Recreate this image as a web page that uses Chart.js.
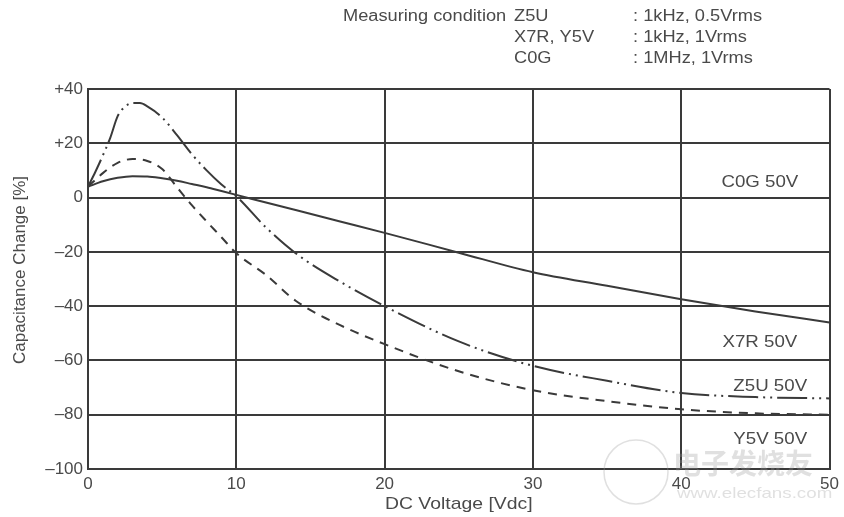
<!DOCTYPE html>
<html>
<head>
<meta charset="utf-8">
<script src="https://cdn.jsdelivr.net/npm/chart.js@4/dist/chart.umd.min.js"></script>
<style>
  body { margin: 0; background: #fff; }
  #wrap { width: 844px; height: 517px; }
</style>
</head>
<body>
<div id="wrap"><canvas id="dcBiasChart" width="844" height="517"></canvas></div>
<script>
// ---- data ----
const xTicks = [0, 10, 20, 30, 40, 50];
const yTicks = [40, 20, 0, -20, -40, -60, -80, -100];

// solid curve
const x7rVolt   = [0, 1, 2, 3, 4, 5, 6, 7, 8, 9, 10, 12, 14, 17, 20, 25, 30, 35, 40, 45, 50];
const x7rChange = [4, 6, 7.3, 7.9, 7.8, 7.1, 6.2, 5, 3.8, 2.4, 1, -1.8, -4.6, -8.8, -13, -20.3, -27.5, -32.5, -37.5, -42, -46];

// dash-dot-dot curve
const z5uVolt   = [0, 0.5, 1, 1.5, 2, 2.5, 3, 3.5, 4, 5, 6, 7, 8, 9, 10, 12, 14, 17, 20, 25, 30, 35, 40, 45, 50];
const z5uChange = [4, 9.5, 15.5, 22, 30, 33.5, 34.8, 34.8, 33.6, 29.5, 23, 16, 10, 4.8, 0.5, -11, -20.5, -31, -40, -53, -62, -67.5, -72, -73.5, -74];

// dashed curve
const y5vVolt   = [0, 1, 2, 3, 4, 5, 6, 7, 8, 9, 10, 12, 14, 17, 20, 25, 30, 35, 40, 45, 50];
const y5vChange = [4, 9, 12.8, 14.2, 13.5, 10.5, 3.8, -2.8, -8.8, -14.6, -20.5, -28.5, -38, -47, -54, -64, -71, -75, -78, -79.5, -80];

const FONT = "'Liberation Sans', Arial, sans-serif";
const INK = '#3a3a3a';
const TEXT = '#4a4a4a';
const STRETCH = 1.14; // the scan is a bit wider than tall

function toPoints(xs, ys) {
    return xs.map((x, i) => ({ x: x, y: ys[i] }));
}

function fmtY(v) {
    if (v > 0) return '+' + v;
    if (v < 0) return '–' + Math.abs(v);
    return '0';
}

// text drawn slightly wider, like the scanned original
function wideText(ctx, text, x, y, sx) {
    ctx.save();
    ctx.translate(x, y);
    ctx.scale(sx, 1);
    ctx.fillText(text, 0, 0);
    ctx.restore();
}

// header text, axis titles, curve labels, watermark
const notesPlugin = {
    id: 'notes',
    afterDraw(chart) {
        const ctx = chart.ctx;
        const xs = chart.scales.x, ys = chart.scales.y;
        const area = chart.chartArea;
        ctx.save();
        ctx.fillStyle = TEXT;
        ctx.textBaseline = 'middle';

        // measuring conditions
        ctx.font = '16px ' + FONT;
        ctx.textAlign = 'left';
        const rows = [
            ['Measuring condition', 'Z5U', ': 1kHz, 0.5Vrms'],
            ['', 'X7R, Y5V', ': 1kHz, 1Vrms'],
            ['', 'C0G', ': 1MHz, 1Vrms']
        ];
        rows.forEach((r, i) => {
            const y = 17 + i * 21;
            if (r[0]) wideText(ctx, r[0], 343, y, STRETCH);
            wideText(ctx, r[1], 514, y, STRETCH);
            wideText(ctx, r[2], 633, y, STRETCH);
        });

        // axis titles
        ctx.font = '17px ' + FONT;
        ctx.textAlign = 'center';
        wideText(ctx, 'DC Voltage [Vdc]', (area.left + area.right) / 2, 504, STRETCH);
        ctx.save();
        ctx.translate(20, 270);
        ctx.rotate(-Math.PI / 2);
        ctx.fillText('Capacitance Change [%]', 0, 0);
        ctx.restore();

        // labels in the right column
        const labels = [
            ['C0G 50V', 45.3, 5.5],
            ['X7R 50V', 45.3, -53.5],
            ['Z5U 50V', 46, -69.5],
            ['Y5V 50V', 46, -89]
        ];
        labels.forEach(l => {
            wideText(ctx, l[0], xs.getPixelForValue(l[1]), ys.getPixelForValue(l[2]), 1.1);
        });

        // faint watermark
        ctx.globalAlpha = 0.3;
        ctx.strokeStyle = '#999';
        ctx.lineWidth = 1.5;
        ctx.beginPath();
        ctx.arc(636, 472, 32, 0, Math.PI * 2);
        ctx.stroke();
        ctx.fillStyle = '#999';
        ctx.font = "bold 28px 'Noto Sans CJK SC', sans-serif";
        ctx.textAlign = 'left';
        ctx.fillText('电子发烧友', 673, 463);
        ctx.font = '15px ' + FONT;
        wideText(ctx, 'www.elecfans.com', 677, 494, 1.25);
        ctx.restore();
    }
};

const ctx = document.getElementById('dcBiasChart');

new Chart(ctx, {
    type: 'line',
    data: {
        datasets: [
            {
                label: 'X7R',
                data: toPoints(x7rVolt, x7rChange),
                borderColor: INK,
                borderWidth: 2,
                pointRadius: 0,
                cubicInterpolationMode: 'monotone'
            },
            {
                label: 'Z5U',
                data: toPoints(z5uVolt, z5uChange),
                borderColor: INK,
                borderWidth: 2,
                borderDash: [30, 5, 2, 5, 2, 5],
                pointRadius: 0,
                cubicInterpolationMode: 'monotone'
            },
            {
                label: 'Y5V',
                data: toPoints(y5vVolt, y5vChange),
                borderColor: INK,
                borderWidth: 2,
                borderDash: [9, 7],
                pointRadius: 0,
                cubicInterpolationMode: 'monotone'
            }
        ]
    },
    options: {
        responsive: false,
        animation: false,
        layout: { padding: { top: 89, right: 13, left: 0, bottom: 0 } },
        plugins: {
            legend: { display: false },
            tooltip: { enabled: false }
        },
        scales: {
            x: {
                type: 'linear',
                min: 0,
                max: 50,
                afterFit: s => { s.height = 48; },
                afterBuildTicks: s => { s.ticks = xTicks.map(v => ({ value: v })); },
                grid: { color: INK, lineWidth: 2, drawTicks: false },
                border: { color: INK, width: 2 },
                ticks: { color: TEXT, font: { family: FONT, size: 17 }, padding: 5, maxRotation: 0 }
            },
            y: {
                min: -100,
                max: 40,
                afterFit: s => { s.width = 88; },
                afterBuildTicks: s => { s.ticks = yTicks.map(v => ({ value: v })); },
                grid: { color: INK, lineWidth: 2, drawTicks: false },
                border: { color: INK, width: 2 },
                ticks: { color: TEXT, font: { family: FONT, size: 17 }, padding: 5, callback: fmtY }
            }
        }
    },
    plugins: [notesPlugin]
});
</script>
</body>
</html>
